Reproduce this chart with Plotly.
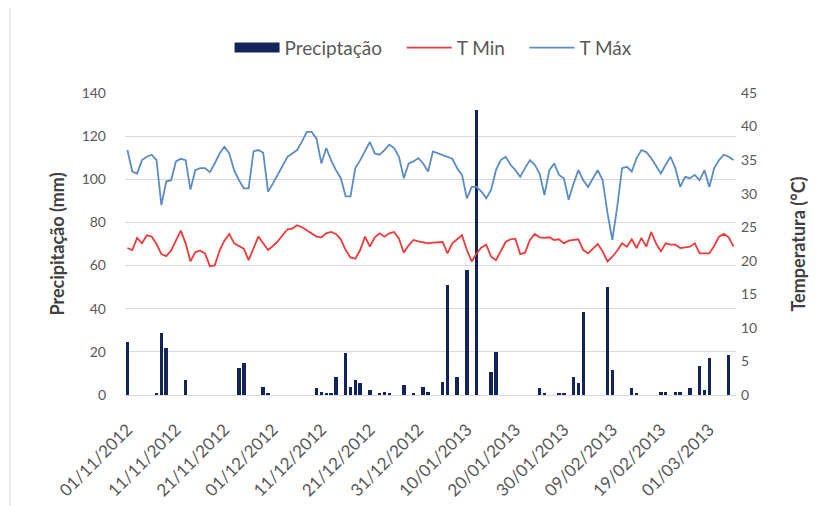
import plotly.graph_objects as go
import pandas as pd

# ---- data -------------------------------------------------------------
start_date = "2012-11-01"
n_days = 126

precipitacao = [
    24.7, 0, 0, 0, 0, 0, 0.5, 28.6, 21.7, 0,
    0, 0, 7.0, 0, 0, 0, 0, 0, 0, 0,
    0, 0, 0, 12.4, 14.7, 0, 0, 0, 3.9, 0.5,
    0, 0, 0, 0, 0, 0, 0, 0, 0, 3.1,
    1.5, 0.8, 0.8, 8.5, 0, 19.5, 3.9, 7.0, 5.4, 0,
    2.3, 0, 0.5, 1.5, 0.5, 0, 0, 4.6, 0, 1.0,
    0, 3.9, 1.5, 0, 0, 6.2, 51.0, 0, 8.5, 0,
    58.0, 0, 132.3, 0, 0, 10.8, 20.1, 0, 0, 0,
    0, 0, 0, 0, 0, 3.1, 1.0, 0, 0, 0.5,
    0.8, 0, 8.5, 5.4, 38.7, 0, 0, 0, 0, 50.3,
    11.6, 0, 0, 0, 3.1, 0.5, 0, 0, 0, 0,
    1.5, 1.5, 0, 1.5, 1.5, 0, 3.1, 0, 13.5, 2.5,
    17.0, 0, 0, 0, 18.6, 0,
]

t_min = [
    21.9, 21.6, 23.4, 22.6, 23.8, 23.6, 22.5, 21.0, 20.7, 21.5,
    23.0, 24.5, 22.6, 19.9, 21.3, 21.5, 21.1, 19.2, 19.3, 21.5,
    23.0, 24.0, 22.6, 22.2, 21.8, 20.1, 22.0, 23.6, 22.6, 21.6,
    22.2, 22.9, 23.8, 24.7, 24.8, 25.3, 25.0, 24.5, 24.0, 23.6,
    23.5, 24.1, 24.3, 24.0, 23.2, 21.6, 20.5, 20.3, 21.6, 23.6,
    22.1, 23.5, 24.1, 23.6, 24.1, 24.3, 23.3, 21.2, 22.3, 23.1,
    22.9, 22.7, 22.6, 22.7, 22.8, 22.8, 21.1, 22.6, 23.2, 23.8,
    21.6, 19.9, 21.1, 22.0, 22.4, 20.6, 20.1, 21.5, 22.8, 23.2,
    23.3, 21.0, 21.2, 23.1, 24.0, 23.5, 23.4, 23.5, 23.1, 23.2,
    22.6, 23.0, 23.1, 23.2, 21.6, 21.1, 21.8, 22.5, 21.4, 19.9,
    20.6, 21.5, 22.6, 22.1, 23.2, 21.9, 23.4, 22.1, 24.3, 22.6,
    21.4, 22.6, 22.4, 22.4, 21.9, 22.0, 22.1, 22.6, 21.1, 21.1,
    21.1, 22.2, 23.6, 24.0, 23.5, 22.1,
]

t_max = [
    36.5, 33.3, 33.0, 35.0, 35.5, 35.8, 35.0, 28.3, 31.8, 32.0,
    34.8, 35.2, 35.0, 30.6, 33.5, 33.8, 33.8, 33.2, 34.5, 36.0,
    37.0, 36.0, 33.5, 32.0, 30.8, 30.8, 36.3, 36.5, 36.1, 30.3,
    31.5, 32.8, 34.3, 35.5, 36.0, 36.5, 37.8, 39.2, 39.2, 38.2,
    34.5, 36.8, 35.0, 33.5, 32.3, 29.6, 29.6, 33.8, 35.0, 36.3,
    37.7, 36.0, 35.8, 36.5, 37.3, 36.8, 35.5, 32.3, 34.5, 34.8,
    35.3, 34.5, 33.3, 36.3, 36.0, 35.7, 35.5, 35.2, 33.8, 32.8,
    29.3, 31.0, 31.0, 30.3, 29.3, 30.6, 33.5, 35.0, 35.5, 34.3,
    33.5, 32.5, 33.8, 35.0, 34.3, 33.0, 29.8, 33.5, 34.5, 32.8,
    32.3, 29.1, 31.5, 33.5, 32.0, 31.0, 32.3, 33.5, 32.0, 27.1,
    23.1, 28.0, 33.8, 34.0, 33.3, 35.3, 36.5, 36.2, 35.3, 34.2,
    33.0, 34.3, 35.5, 33.8, 31.0, 32.5, 32.3, 32.8, 32.0, 33.5,
    31.0, 33.8, 35.0, 35.8, 35.5, 35.0,
]

tick_labels = [
    "01/11/2012", "11/11/2012", "21/11/2012", "01/12/2012", "11/12/2012",
    "21/12/2012", "31/12/2012", "10/01/2013", "20/01/2013", "30/01/2013",
    "09/02/2013", "19/02/2013", "01/03/2013",
]

# ---- figure -----------------------------------------------------------
dates = pd.date_range(start_date, periods=n_days, freq="D")
tick_vals = pd.to_datetime(tick_labels, format="%d/%m/%Y")

NAVY = "#13245c"
RED = "#f03a3a"
BLUE = "#5b8cc6"
FONT = "Lato, 'Open Sans', sans-serif"
GREY_TXT = "#595959"
PAD = "\u00a0\u00a0\u00a0"

fig = go.Figure()
fig.add_trace(go.Bar(
    x=dates, y=precipitacao, name="Preciptação", marker_color=NAVY,
    marker_line_width=0, width=0.72 * 86400000, showlegend=False,
    legendgroup="p", yaxis="y",
))
# legend entry for the bars (wide dark swatch)
fig.add_trace(go.Scatter(
    x=[None], y=[None], mode="lines", name="Preciptação" + PAD,
    line=dict(color=NAVY, width=12), legendgroup="p", yaxis="y",
))
fig.add_trace(go.Scatter(
    x=dates, y=t_min, name="T Min" + PAD, mode="lines",
    line=dict(color=RED, width=1.8), yaxis="y2",
))
fig.add_trace(go.Scatter(
    x=dates, y=t_max, name="T Máx", mode="lines",
    line=dict(color=BLUE, width=1.8), yaxis="y2",
))

half_day = pd.Timedelta(hours=12)
plot_w = 818 - 117 - 90
fig.update_layout(
    width=818, height=498,
    margin=dict(l=117, r=90, t=85, b=111, autoexpand=False),
    paper_bgcolor="white", plot_bgcolor="white",
    font=dict(family=FONT, size=13, color=GREY_TXT),
    bargap=0,
    legend=dict(
        orientation="h", x=0.505, xanchor="center", y=1.15, yanchor="middle",
        font=dict(size=19, color=GREY_TXT), itemwidth=45, traceorder="normal",
        bgcolor="rgba(0,0,0,0)",
    ),
    xaxis=dict(
        type="date", range=[dates[0] - half_day, dates[-1] + half_day],
        tickmode="array", tickvals=tick_vals, ticktext=tick_labels,
        tickangle=-45, tickfont=dict(size=17, color=GREY_TXT),
        showgrid=False, showline=True, linecolor="#d9d9d9", linewidth=1,
        ticks="", ticklabelstandoff=17, zeroline=False,
    ),
    yaxis=dict(
        range=[0, 140], tick0=0, dtick=20, showgrid=True, gridcolor="#d9d9d9",
        gridwidth=1, zeroline=False, showline=False, ticks="",
        ticklabelstandoff=18, tickfont=dict(size=14, color=GREY_TXT),
        title=dict(text="Precipitação (mm)", standoff=12,
                   font=dict(size=18, color="#404040", weight="bold")),
    ),
    yaxis2=dict(
        range=[0, 45], tick0=0, dtick=5, overlaying="y", side="right",
        showgrid=False, zeroline=False, showline=False, ticks="",
        ticklabelstandoff=4, tickfont=dict(size=14, color=GREY_TXT),
        title=dict(text="Temperatura (°C)", standoff=36,
                   font=dict(size=18, color="#404040", weight="bold")),
    ),
    shapes=[dict(
        type="line", xref="paper", yref="paper",
        x0=-115 / plot_w, x1=-115 / plot_w, y0=-111 / 302, y1=1 + 85 / 302,
        line=dict(color="#d9d9d9", width=1),
    )],
)

fig.write_html("out.html")
